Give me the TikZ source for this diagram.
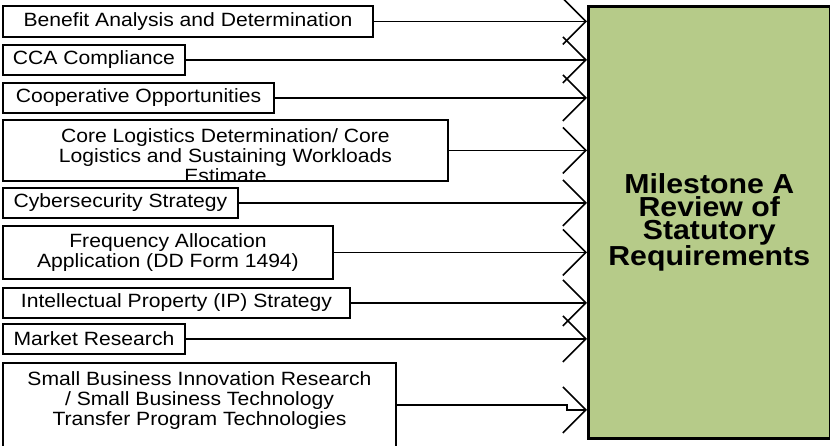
\documentclass[tikz,border=0pt]{standalone}
\usepackage{fontspec}
\setmainfont{Liberation Sans}[FakeStretch=1.1]
\usetikzlibrary{arrows.meta,positioning}
\definecolor{msgreen}{RGB}{182,203,137}
\tikzset{
  inbox/.style={draw, line width=1.9pt, fill=white, align=center,
                anchor=north west, inner sep=0pt,
                font=\fontsize{19.2}{19.5}\selectfont},
  cliptext/.style 2 args={path picture={%
      \node[draw=none, fill=none, anchor=center, inner sep=0pt, align=center,
            font=\fontsize{19.2}{20}\selectfont]
        at ([yshift=#1]path picture bounding box.center) {#2};}},
  msbox/.style={draw, line width=2.5pt, fill=msgreen, align=center,
                anchor=north west, inner sep=0pt,
                font=\bfseries\fontsize{27.5}{23}\selectfont},
  feed/.style={line width=1.6pt, -{Straight Barb[length=23pt,width=46pt]}}
}
\begin{document}
\begin{tikzpicture}[x=1pt,y=-1pt]
  \useasboundingbox (0,0) rectangle (830,445);
  % milestone box
  \node[msbox, minimum width=242, minimum height=432] (review) at (587,5)
    {Milestone A\\Review of\\Statutory\\Requirements};
  % inputs
  \node[inbox, minimum width=370, minimum height=31] (benefit) at (2,5)
    {Benefit Analysis and Determination};
  \node[inbox, minimum width=182, minimum height=30] (cca) at (2,44)
    {CCA Compliance};
  \node[inbox, minimum width=271, minimum height=30] (coop) at (2,82)
    {Cooperative Opportunities};
  \node[inbox, minimum width=445, minimum height=61,
        cliptext={-5pt}{Core Logistics Determination/ Core\\Logistics and Sustaining Workloads\\Estimate}]
    (corelog) at (2,119) {};
  \node[inbox, minimum width=235, minimum height=30] (cyber) at (2,187)
    {Cybersecurity Strategy};
  \node[inbox, minimum width=330, minimum height=53] (freq) at (2,225)
    {Frequency Allocation\\Application (DD Form 1494)};
  \node[inbox, minimum width=347, minimum height=30] (ip) at (2,287)
    {Intellectual Property (IP) Strategy};
  \node[inbox, minimum width=182, minimum height=30] (market) at (2,323)
    {Market Research};
  \node[inbox, minimum width=393, minimum height=84,
        cliptext={4pt}{Small Business Innovation Research\\/ Small Business Technology\\Transfer Program Technologies}]
    (sbir) at (2,362) {};
  % connectors
  \foreach \src in {benefit,cca,coop,corelog,cyber,freq,ip,market}
    \draw[feed] (\src.east) -- (\src.east -| review.west);
  \draw[feed] (sbir.east) -- ++(170,0) |- ([yshift=-5pt]sbir.east -| review.west);
\end{tikzpicture}
\end{document}
